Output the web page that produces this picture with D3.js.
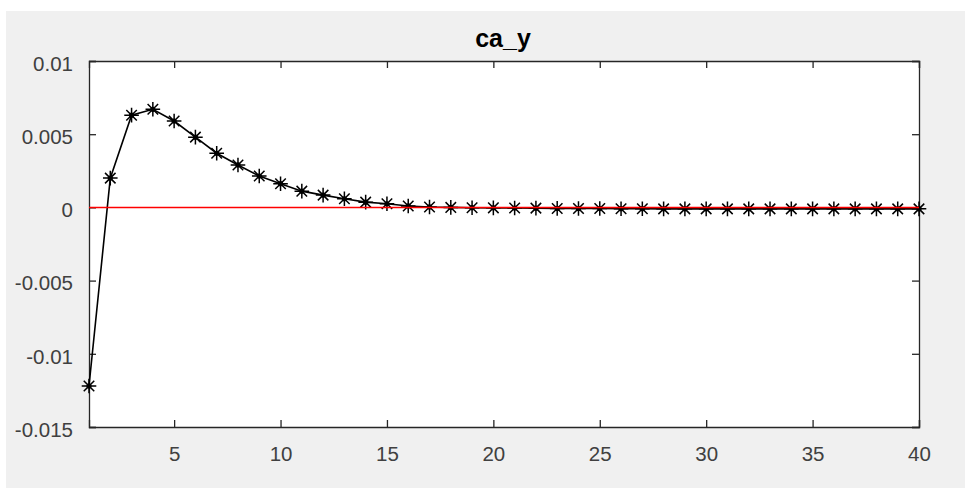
<!DOCTYPE html>
<html>
<head>
<meta charset="utf-8">
<script src="https://cdn.jsdelivr.net/npm/d3@7"></script>
<style>
  body { margin: 0; background: #fff; }
  svg { display: block; }
</style>
</head>
<body>
<svg id="chart" width="965" height="490"></svg>
<script>
// impulse response of ca_y, periods 1..40
const periods = d3.range(1, 41);
const caY = [
  -0.0122, 0.0020, 0.0063, 0.0067, 0.0059, 0.0048, 0.0037, 0.0029, 0.00214, 0.00162,
  0.00111, 0.00084, 0.00059, 0.00036, 0.00025, 0.00010, 0.00003, 0.0000, -0.00002, -0.00003,
  -0.00004, -0.00005, -0.00007, -0.00008, -0.00008, -0.00009, -0.00009, -0.0001, -0.0001, -0.0001,
  -0.0001, -0.0001, -0.0001, -0.0001, -0.0001, -0.0001, -0.0001, -0.0001, -0.0001, -0.0001
];
const zeroLine = [0, 0];
const xTicks = [5, 10, 15, 20, 25, 30, 35, 40];
const yTicks = [-0.015, -0.01, -0.005, 0, 0.005, 0.01];
const yTickLabels = ["-0.015", "-0.01", "-0.005", "0", "0.005", "0.01"];
const title = "ca_y";

const svg = d3.select("#chart");
const margin = { left: 89, right: 46, top: 61, bottom: 63 };
const W = 965, H = 490;
const iw = W - margin.left - margin.right;
const ih = H - margin.top - margin.bottom;

// figure background
svg.append("rect").attr("x", 6).attr("y", 11).attr("width", W - 6).attr("height", H - 13).attr("fill", "#f0f0f0");

const x = d3.scaleLinear().domain([1, 40]).range([margin.left, margin.left + iw]);
const y = d3.scaleLinear().domain([-0.015, 0.01]).range([margin.top + ih, margin.top]);

svg.append("rect").attr("x", margin.left).attr("y", margin.top).attr("width", iw).attr("height", ih).attr("fill", "#fff");

const font = "Arial, 'Liberation Sans', Helvetica, sans-serif";
const tickLen = 7;

// axes, ticks inward on all four sides
const axB = svg.append("g").attr("transform", `translate(0,${margin.top + ih})`)
  .call(d3.axisBottom(x).tickValues(xTicks).tickSize(-tickLen).tickPadding(19).tickFormat(d3.format("d")));
const axT = svg.append("g").attr("transform", `translate(0,${margin.top})`)
  .call(d3.axisTop(x).tickValues(xTicks).tickSize(-tickLen).tickFormat(""));
const axL = svg.append("g").attr("transform", `translate(${margin.left},0)`)
  .call(d3.axisLeft(y).tickValues(yTicks).tickSize(-tickLen).tickPadding(16).tickFormat((d, i) => yTickLabels[i]));
const axR = svg.append("g").attr("transform", `translate(${margin.left + iw},0)`)
  .call(d3.axisRight(y).tickValues(yTicks).tickSize(-tickLen).tickFormat(""));

[axB, axT, axL, axR].forEach(a => {
  a.select(".domain").attr("stroke", "#262626").attr("stroke-width", 1.3);
  a.selectAll(".tick line").attr("stroke", "#262626").attr("stroke-width", 1.3);
  a.selectAll("text").attr("fill", "#404040").style("font-family", font).style("font-size", "20.5px");
});
axL.selectAll("text").attr("dy", "0.45em");

// response line
const line = d3.line().x((d, i) => x(periods[i])).y(d => y(d));
svg.append("path").datum(caY).attr("d", line)
  .attr("fill", "none").attr("stroke", "#000").attr("stroke-width", 1.6);

// asterisk markers
const r = 7.3, rd = r * 0.72;
const star = `M${-r},0L${r},0M0,${-r}L0,${r}M${-rd},${-rd}L${rd},${rd}M${-rd},${rd}L${rd},${-rd}`;
const marks = svg.append("g").selectAll("g").data(caY).join("g")
  .attr("transform", (d, i) => `translate(${x(periods[i])},${y(d)})`);
marks.append("path").attr("d", star).attr("stroke", "#000").attr("stroke-width", 1.5).attr("fill", "none");
marks.append("circle").attr("r", 2.6).attr("fill", "#000");

// red zero reference line (drawn on top)
svg.append("line")
  .attr("x1", x(1)).attr("x2", x(40))
  .attr("y1", Math.round(y(zeroLine[0])) + 0.5).attr("y2", Math.round(y(zeroLine[1])) + 0.5)
  .attr("stroke", "#ff0000").attr("stroke-width", 1.6);

// title
svg.append("text").attr("x", 503).attr("y", 47)
  .attr("text-anchor", "middle").style("font-family", font).style("font-size", "25px")
  .style("font-weight", "bold").attr("fill", "#000").text(title);
</script>
</body>
</html>
